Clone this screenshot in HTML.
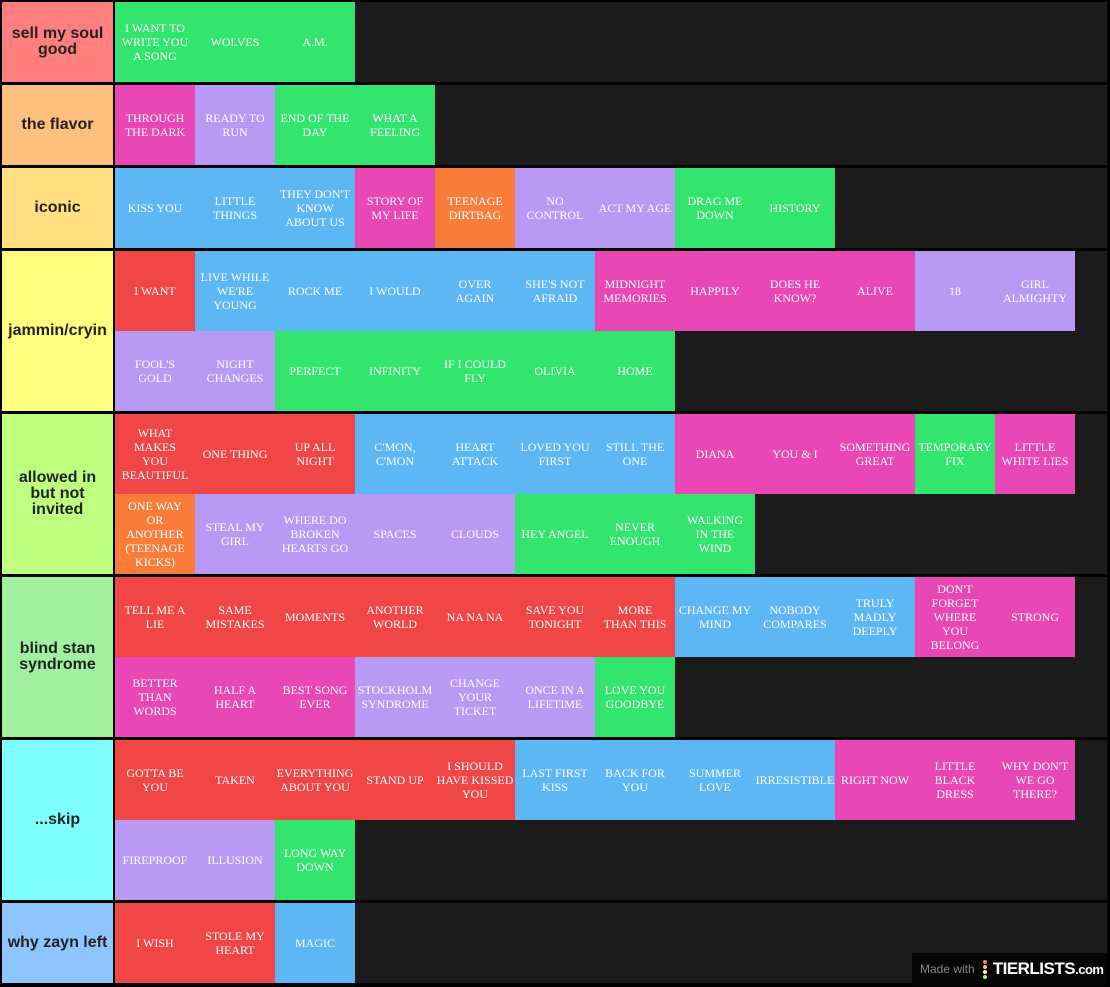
<!DOCTYPE html>
<html><head><meta charset="utf-8"><style>
body{margin:0;background:#000;width:1110px;height:987px;overflow:hidden;position:relative;font-family:"Liberation Serif",serif}
.row{position:absolute;left:0;width:1110px;display:flex}
.lab{position:absolute;left:2px;top:0;width:111px;bottom:0;box-sizing:border-box;padding:0 9px;display:flex;align-items:center;justify-content:center;text-align:center;font:bold 16px/16px "Liberation Sans",sans-serif;color:#222}
.items{position:absolute;left:115px;top:0;width:992px;bottom:0;background:#1b1b1b;display:flex;flex-wrap:wrap;align-content:flex-start}
.i{width:80px;height:80px;box-sizing:border-box;padding:0 5px;display:flex;align-items:center;justify-content:center;text-align:center;color:#fff;font-size:12px;line-height:14px;text-transform:uppercase}
.r{background:#f04646}.g{background:#33e46f}.p{background:#e946b6}.u{background:#b89af5}.b{background:#5db7f5}.o{background:#fa7c3a}
.wm{position:absolute;left:912px;top:953px;width:195px;height:32px;background:#050505;color:#888;font:12px "Liberation Sans",sans-serif;display:flex;align-items:center}
</style></head><body>
<div class="row" style="top:2px;height:80px"><div class="lab" style="background:#ff7f7f">sell my soul good</div><div class="items">
<div class="i g">I want to write you a song</div><div class="i g">Wolves</div><div class="i g">A.M.</div></div></div>
<div class="row" style="top:85px;height:80px"><div class="lab" style="background:#ffbf7f">the flavor</div><div class="items">
<div class="i p">Through the dark</div><div class="i u">Ready to run</div><div class="i g">End of the day</div><div class="i g">What a feeling</div></div></div>
<div class="row" style="top:168px;height:80px"><div class="lab" style="background:#ffdf80">iconic</div><div class="items">
<div class="i b">Kiss you</div><div class="i b">Little things</div><div class="i b" style="padding:0 2px">They don't know about us</div><div class="i p">Story of my life</div><div class="i o">Teenage dirtbag</div><div class="i u">No control</div><div class="i u" style="padding:0">Act my age</div><div class="i g">Drag me down</div><div class="i g">History</div></div></div>
<div class="row" style="top:251px;height:160px"><div class="lab" style="background:#ffff7f">jammin/cryin</div><div class="items">
<div class="i r">I want</div><div class="i b">Live while we're young</div><div class="i b">Rock me</div><div class="i b">I would</div><div class="i b">Over again</div><div class="i b">She's not afraid</div><div class="i p">Midnight memories</div><div class="i p">Happily</div><div class="i p">Does he know?</div><div class="i p">Alive</div><div class="i u">18</div><div class="i u">Girl almighty</div>
<div class="i u">Fool's gold</div><div class="i u">Night changes</div><div class="i g">Perfect</div><div class="i g">Infinity</div><div class="i g">If I could fly</div><div class="i g">Olivia</div><div class="i g">Home</div></div></div>
<div class="row" style="top:414px;height:160px"><div class="lab" style="background:#bfff7f">allowed in but not invited</div><div class="items">
<div class="i r">What makes you beautiful</div><div class="i r">One thing</div><div class="i r">Up all night</div><div class="i b">C'mon, c'mon</div><div class="i b">Heart attack</div><div class="i b" style="padding:0">Loved you first</div><div class="i b">Still the one</div><div class="i p">Diana</div><div class="i p">You &amp; I</div><div class="i p" style="padding:0">Something great</div><div class="i g" style="padding:0">Temporary fix</div><div class="i p">Little white lies</div>
<div class="i o">One way or another (teenage kicks)</div><div class="i u">Steal my girl</div><div class="i u">Where do broken hearts go</div><div class="i u">Spaces</div><div class="i u">Clouds</div><div class="i g" style="padding:0">Hey angel</div><div class="i g">Never enough</div><div class="i g">Walking in the wind</div></div></div>
<div class="row" style="top:577px;height:160px"><div class="lab" style="background:#a0f0a0">blind stan syndrome</div><div class="items">
<div class="i r">Tell me a lie</div><div class="i r">Same mistakes</div><div class="i r">Moments</div><div class="i r">Another world</div><div class="i r">Na na na</div><div class="i r">Save you tonight</div><div class="i r">More than this</div><div class="i b" style="padding:0">Change my mind</div><div class="i b" style="padding:0">Nobody compares</div><div class="i b">Truly madly deeply</div><div class="i p">Don't forget where you belong</div><div class="i p">Strong</div>
<div class="i p">Better than words</div><div class="i p">Half a heart</div><div class="i p">Best song ever</div><div class="i u" style="padding:0">Stockholm syndrome</div><div class="i u">Change your ticket</div><div class="i u">Once in a lifetime</div><div class="i g">Love you goodbye</div></div></div>
<div class="row" style="top:740px;height:160px"><div class="lab" style="background:#7fffff">...skip</div><div class="items">
<div class="i r">Gotta be you</div><div class="i r">Taken</div><div class="i r" style="padding:0">Everything about you</div><div class="i r" style="padding:0">Stand up</div><div class="i r" style="padding:0">I should have kissed you</div><div class="i b">Last first kiss</div><div class="i b">Back for you</div><div class="i b">Summer love</div><div class="i b" style="padding:0">Irresistible</div><div class="i p" style="padding:0">Right now</div><div class="i p">Little black dress</div><div class="i p">Why don't we go there?</div>
<div class="i u">Fireproof</div><div class="i u">Illusion</div><div class="i g">Long way down</div></div></div>
<div class="row" style="top:903px;height:80px"><div class="lab" style="background:#8fc5ff;padding:0">why zayn left</div><div class="items">
<div class="i r">I wish</div><div class="i r">Stole my heart</div><div class="i b">Magic</div></div></div>
<div class="wm"><span style="margin-left:8px">Made with</span><span style="display:inline-flex;flex-direction:column;margin:0 6px 0 8px;gap:1px"><i style="width:4px;height:4px;border-radius:2px;background:#f77"></i><i style="width:4px;height:4px;border-radius:2px;background:#fb7"></i><i style="width:4px;height:4px;border-radius:2px;background:#ff6"></i><i style="width:4px;height:4px;border-radius:2px;background:#9f6"></i></span><b style="color:#fff;font:bold 17px 'Liberation Sans',sans-serif;letter-spacing:-0.5px">TIERLISTS<span style="font-size:13px">.com</span></b></div>
</body></html>
